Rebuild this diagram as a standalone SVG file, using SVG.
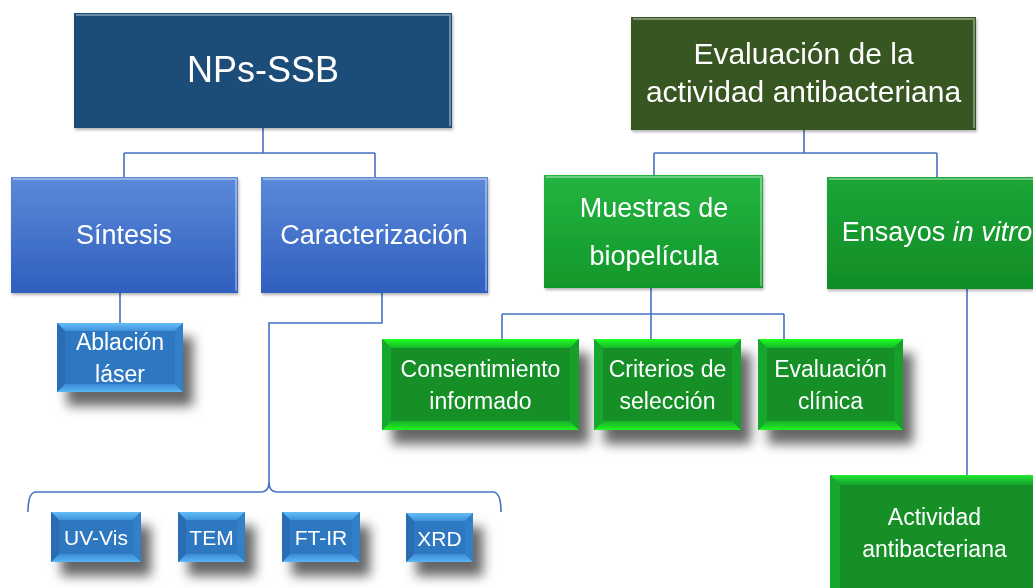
<svg xmlns="http://www.w3.org/2000/svg" width="1033" height="588" viewBox="0 0 1033 588">
<defs>
<linearGradient id="gBlue2" x1="0" y1="0" x2="0" y2="1"><stop offset="0" stop-color="#5c89d8"/><stop offset="1" stop-color="#2f5fbf"/></linearGradient>
<linearGradient id="gGreen2" x1="0" y1="0" x2="0" y2="1"><stop offset="0" stop-color="#24b440"/><stop offset="1" stop-color="#11982a"/></linearGradient>
<linearGradient id="gGreen2b" x1="0" y1="0" x2="0" y2="1"><stop offset="0" stop-color="#1ba636"/><stop offset="1" stop-color="#108d27"/></linearGradient>
<linearGradient id="gBtop" x1="0" y1="0" x2="0" y2="1"><stop offset="0" stop-color="#63bdf7"/><stop offset="1" stop-color="#3f93dc"/></linearGradient>
<linearGradient id="gBbot" x1="0" y1="1" x2="0" y2="0"><stop offset="0" stop-color="#5ab4f2"/><stop offset="1" stop-color="#3a8bd6"/></linearGradient>
<linearGradient id="gGtop" x1="0" y1="0" x2="0" y2="1"><stop offset="0" stop-color="#20ff20"/><stop offset="1" stop-color="#17b82a"/></linearGradient>
<linearGradient id="gGbot" x1="0" y1="1" x2="0" y2="0"><stop offset="0" stop-color="#22f422"/><stop offset="1" stop-color="#17b02a"/></linearGradient>
<linearGradient id="gGtop2" x1="0" y1="0" x2="0" y2="1"><stop offset="0" stop-color="#22e830"/><stop offset="1" stop-color="#14a02c"/></linearGradient>
<filter id="sh" x="-25%" y="-25%" width="160%" height="180%">
<feGaussianBlur in="SourceAlpha" stdDeviation="6"/>
<feOffset dx="10" dy="14" result="b"/>
<feFlood flood-color="#000" flood-opacity="0.6"/>
<feComposite in2="b" operator="in"/>
<feMerge><feMergeNode/><feMergeNode in="SourceGraphic"/></feMerge>
</filter>
<filter id="sh2" x="-10%" y="-10%" width="130%" height="130%">
<feGaussianBlur in="SourceAlpha" stdDeviation="1.5"/>
<feOffset dx="1" dy="2" result="b"/>
<feFlood flood-color="#000" flood-opacity="0.3"/>
<feComposite in2="b" operator="in"/>
<feMerge><feMergeNode/><feMergeNode in="SourceGraphic"/></feMerge>
</filter>
</defs>
<style>
text{font-family:"Liberation Sans",Arial,sans-serif;fill:#fff;text-anchor:middle}
.c{fill:none;stroke:#4472c4;stroke-width:1.6}
.bBase{fill:#2f78c2}.bTop{fill:url(#gBtop)}.bBot{fill:url(#gBbot)}.bSide{fill:#2b6db4}.bSideR{fill:#3380c8}
.gBase{fill:#128f28}.gTop{fill:url(#gGtop)}.gBot{fill:url(#gGbot)}.gSide{fill:#17a82d}.gSideR{fill:#15a02c}
.hl{fill:none;stroke:#ffffff;stroke-opacity:0.35;stroke-width:2}
.t3{font-size:23px}.t4{font-size:21px}.t2{font-size:27px}
</style>
<rect width="1033" height="588" fill="#fff"/>

<g id="connectors">
<path class="c" d="M263,128 V153 M124,153 H375 M124,153 V177 M375,153 V177"/>
<path class="c" d="M120,293 V323"/>
<path class="c" d="M382,293 V323 H269 V482 Q269,492 261,492 H36 Q28,492 28,512 M269,482 Q269,492 277,492 H493 Q501,492 501,512"/>
<path class="c" d="M804,130 V153 M654,153 H937 M654,153 V175 M937,153 V177"/>
<path class="c" d="M651,288 V339 M502,314 H784 M502,314 V339 M784,314 V339"/>
<path class="c" d="M967,289 V475"/>
</g>

<g id="n-npsssb" filter="url(#sh2)">
<rect x="74" y="13" width="378" height="115" fill="#1f4e79"/>
<path class="hl" d="M76,15 H450 V126"/>
<text x="263" y="82" style="font-size:36px">NPs-SSB</text>
</g>

<g id="n-sintesis" filter="url(#sh2)">
<rect x="11" y="177" width="227" height="116" fill="url(#gBlue2)"/>
<path class="hl" d="M13,179 H236 V291"/>
<text class="t2" x="124" y="244">Síntesis</text>
</g>

<g id="n-caracterizacion" filter="url(#sh2)">
<rect x="261" y="177" width="227" height="116" fill="url(#gBlue2)"/>
<path class="hl" d="M263,179 H486 V291"/>
<text class="t2" x="374" y="244">Caracterización</text>
</g>

<g id="n-ablacion" filter="url(#sh)">
<rect class="bBase" x="57" y="323" width="126" height="69"/>
<polygon class="bTop" points="57,323 183,323 175,331 65,331"/>
<polygon class="bBot" points="57,392 183,392 175,384 65,384"/>
<polygon class="bSide" points="57,323 65,331 65,384 57,392"/>
<polygon class="bSideR" points="183,323 175,331 175,384 183,392"/>
<text class="t3" x="120" y="350">Ablación</text>
<text class="t3" x="120" y="382">láser</text>
</g>

<g id="n-uvvis" filter="url(#sh)">
<rect class="bBase" x="51" y="512" width="90" height="50"/>
<polygon class="bTop" points="51,512 141,512 133,520 59,520"/>
<polygon class="bBot" points="51,562 141,562 133,554 59,554"/>
<polygon class="bSide" points="51,512 59,520 59,554 51,562"/>
<polygon class="bSideR" points="141,512 133,520 133,554 141,562"/>
<text class="t4" x="96" y="545">UV-Vis</text>
</g>

<g id="n-tem" filter="url(#sh)">
<rect class="bBase" x="178" y="512" width="67" height="50"/>
<polygon class="bTop" points="178,512 245,512 237,520 186,520"/>
<polygon class="bBot" points="178,562 245,562 237,554 186,554"/>
<polygon class="bSide" points="178,512 186,520 186,554 178,562"/>
<polygon class="bSideR" points="245,512 237,520 237,554 245,562"/>
<text class="t4" x="211.5" y="545">TEM</text>
</g>

<g id="n-ftir" filter="url(#sh)">
<rect class="bBase" x="282" y="512" width="78" height="50"/>
<polygon class="bTop" points="282,512 360,512 352,520 290,520"/>
<polygon class="bBot" points="282,562 360,562 352,554 290,554"/>
<polygon class="bSide" points="282,512 290,520 290,554 282,562"/>
<polygon class="bSideR" points="360,512 352,520 352,554 360,562"/>
<text class="t4" x="321" y="545">FT-IR</text>
</g>

<g id="n-xrd" filter="url(#sh)">
<rect class="bBase" x="406" y="513" width="67" height="49"/>
<polygon class="bTop" points="406,513 473,513 465,521 414,521"/>
<polygon class="bBot" points="406,562 473,562 465,554 414,554"/>
<polygon class="bSide" points="406,513 414,521 414,554 406,562"/>
<polygon class="bSideR" points="473,513 465,521 465,554 473,562"/>
<text class="t4" x="439.5" y="546">XRD</text>
</g>

<g id="n-evaluacion" filter="url(#sh2)">
<rect x="631" y="17" width="345" height="113" fill="#375623"/>
<path class="hl" d="M633,19 H974 V128"/>
<text x="803.5" y="64" style="font-size:30px">Evaluación de la</text>
<text x="803.5" y="102" style="font-size:30px">actividad antibacteriana</text>
</g>

<g id="n-muestras" filter="url(#sh2)">
<rect x="544" y="175" width="219" height="113" fill="url(#gGreen2)"/>
<path class="hl" d="M546,177 H761 V286"/>
<text class="t2" x="654" y="217">Muestras de</text>
<text class="t2" x="654" y="265">biopelícula</text>
</g>

<g id="n-ensayos" filter="url(#sh2)">
<rect x="827" y="177" width="220" height="112" fill="url(#gGreen2b)"/>
<path class="hl" d="M829,179 H1040"/>
<text class="t2" x="937" y="241">Ensayos <tspan font-style="italic">in vitro</tspan></text>
</g>

<g id="n-consentimiento" filter="url(#sh)">
<rect class="gBase" x="382" y="339" width="197" height="91"/>
<polygon class="gTop" points="382,339 579,339 570,348 391,348"/>
<polygon class="gBot" points="382,430 579,430 570,421 391,421"/>
<polygon class="gSide" points="382,339 391,348 391,421 382,430"/>
<polygon class="gSideR" points="579,339 570,348 570,421 579,430"/>
<text class="t3" x="480.5" y="377">Consentimiento</text>
<text class="t3" x="480.5" y="409">informado</text>
</g>

<g id="n-criterios" filter="url(#sh)">
<rect class="gBase" x="594" y="339" width="147" height="91"/>
<polygon class="gTop" points="594,339 741,339 732,348 603,348"/>
<polygon class="gBot" points="594,430 741,430 732,421 603,421"/>
<polygon class="gSide" points="594,339 603,348 603,421 594,430"/>
<polygon class="gSideR" points="741,339 732,348 732,421 741,430"/>
<text class="t3" x="667.5" y="377">Criterios de</text>
<text class="t3" x="667.5" y="409">selección</text>
</g>

<g id="n-evalclinica" filter="url(#sh)">
<rect class="gBase" x="758" y="339" width="145" height="91"/>
<polygon class="gTop" points="758,339 903,339 894,348 767,348"/>
<polygon class="gBot" points="758,430 903,430 894,421 767,421"/>
<polygon class="gSide" points="758,339 767,348 767,421 758,430"/>
<polygon class="gSideR" points="903,339 894,348 894,421 903,430"/>
<text class="t3" x="830.5" y="377">Evaluación</text>
<text class="t3" x="830.5" y="409">clínica</text>
</g>

<g id="n-actividad" filter="url(#sh)">
<rect class="gBase" x="830" y="475" width="215" height="125"/>
<polygon points="830,475 1045,475 1036,485 840,485" fill="url(#gGtop2)"/>
<polygon class="gSide" points="830,475 840,485 840,600 830,600"/>
<text class="t3" x="934.5" y="525">Actividad</text>
<text class="t3" x="934.5" y="557">antibacteriana</text>
</g>
</svg>
